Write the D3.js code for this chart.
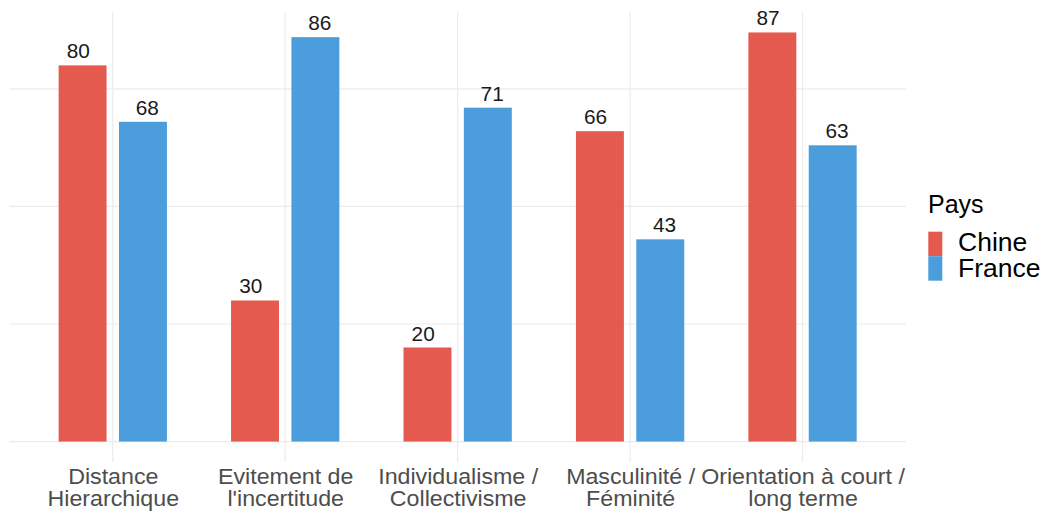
<!DOCTYPE html>
<html>
<head>
<meta charset="utf-8">
<script src="https://cdn.jsdelivr.net/npm/d3@7"></script>
<style>
  html, body { margin: 0; padding: 0; background: #fff; }
  svg { display: block; font-family: "Liberation Sans", Arial, Helvetica, sans-serif; }
</style>
</head>
<body>
<svg id="chart" width="1048" height="515"></svg>
<script>
const categories = ["Distance\nHierarchique", "Evitement de\nl'incertitude", "Individualisme /\nCollectivisme", "Masculinité /\nFéminité", "Orientation à court /\nlong terme"];
const seriesNames = ["Chine", "France"];
const chineValues = [80, 30, 20, 66, 87];
const franceValues = [68, 86, 71, 43, 63];
const yTicks = [0, 25, 50, 75];
const legendTitle = "Pays";
const colors = ["#E55A4F", "#4C9DDC"];

const svg = d3.select("#chart");
const panel = { left: 9.3, right: 906, top: 12, bottom: 462 };

const x = d3.scalePoint().domain(categories).range([panel.left, panel.right]).padding(0.6);
const step = x.step();
const maxV = d3.max([...chineValues, ...franceValues]);
const y = d3.scaleLinear().domain([-0.05 * maxV, maxV * 1.05]).range([panel.bottom, panel.top]);

const series = [chineValues, franceValues];
const barOffset = 0.175, barWidth = 0.278, labelOffset = 0.2;

// gridlines
const g = svg.append("g");
g.selectAll("line.h").data(yTicks).join("line")
  .attr("x1", panel.left).attr("x2", panel.right)
  .attr("y1", d => y(d)).attr("y2", d => y(d))
  .attr("stroke", "#EBEBEB").attr("stroke-width", 1.2);
g.selectAll("line.v").data(categories).join("line")
  .attr("x1", d => x(d)).attr("x2", d => x(d))
  .attr("y1", panel.top).attr("y2", panel.bottom)
  .attr("stroke", "#EBEBEB").attr("stroke-width", 1.2);

// bars
series.forEach((vals, si) => {
  const sign = si === 0 ? -1 : 1;
  svg.append("g").selectAll("rect").data(vals).join("rect")
    .attr("x", (d, i) => x(categories[i]) + sign * barOffset * step - barWidth * step / 2)
    .attr("width", barWidth * step)
    .attr("y", d => y(d))
    .attr("height", d => y(0) - y(d))
    .attr("fill", colors[si]);
  svg.append("g").selectAll("text").data(vals).join("text")
    .attr("transform", (d, i) => `translate(${x(categories[i]) + sign * labelOffset * step},${y(d) - 7}) scale(1.04,1)`)
    .attr("text-anchor", "middle")
    .attr("font-size", 20)
    .attr("fill", "#1a1a1a")
    .text(d => d);
});

// x axis
const axis = svg.append("g").attr("transform", `translate(0,${panel.bottom})`)
  .call(d3.axisBottom(x).tickSize(0).tickFormat(""));
axis.select(".domain").remove();
axis.selectAll(".tick").each(function(d) {
  const t = d3.select(this).append("text")
    .attr("text-anchor", "middle")
    .attr("font-size", 21.5)
    .attr("fill", "#4D4D4D")
    .attr("transform", "translate(0,22.3) scale(1.08,1)");
  d.split("\n").forEach((line, i) => {
    t.append("tspan").attr("x", 0).attr("dy", i === 0 ? 0 : 21.6).text(line);
  });
});

// legend
const lg = svg.append("g").attr("transform", "translate(928,0)");
lg.append("text").attr("x", 0).attr("y", 213.3).attr("font-size", 25).attr("fill", "#000").text(legendTitle);
seriesNames.forEach((name, i) => {
  lg.append("rect").attr("x", 0.3).attr("y", 231.7 + i * 24.5).attr("width", 14).attr("height", 24.5).attr("fill", colors[i]);
  lg.append("text").attr("x", 30).attr("y", 251 + i * 25.5).attr("font-size", 26.5).attr("fill", "#000").text(name);
});
</script>
</body>
</html>
